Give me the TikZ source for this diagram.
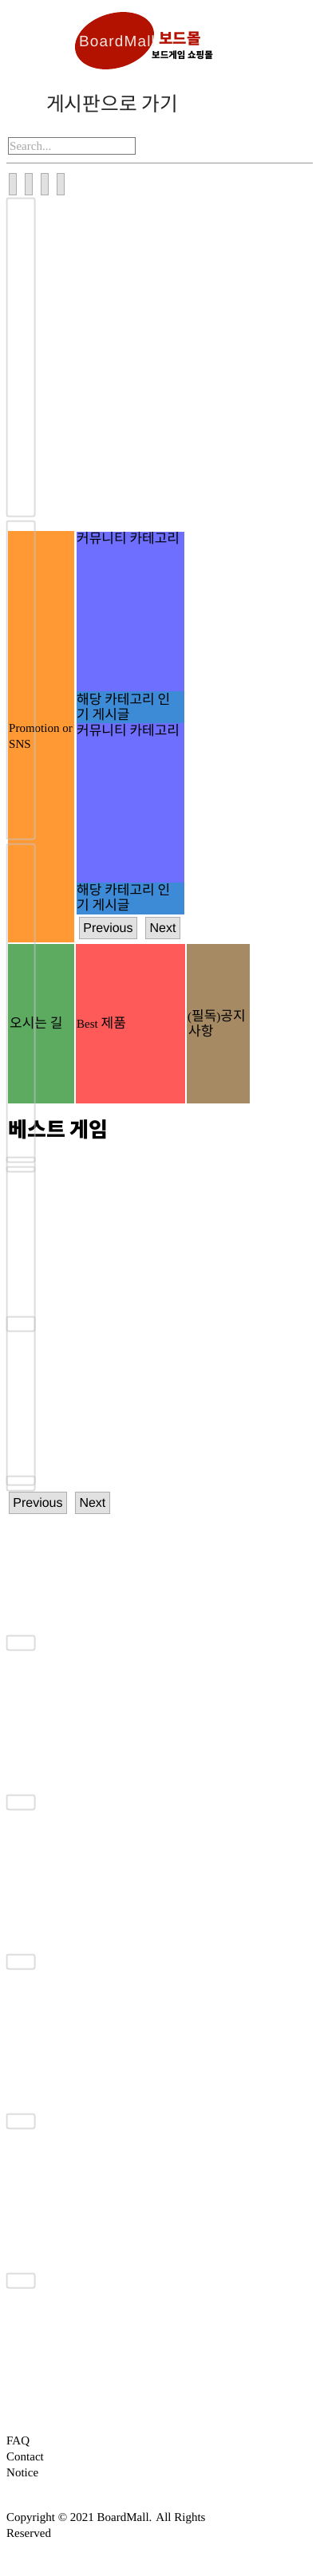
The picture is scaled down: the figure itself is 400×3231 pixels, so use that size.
\documentclass[tikz,border=0pt]{standalone}
\usepackage{fontspec}
\setmainfont{Liberation Serif}
\newfontfamily\korfont{Noto Sans CJK KR}
\newfontfamily\arialfont{Liberation Sans}
\definecolor{logored}{RGB}{179,18,0}
\definecolor{orangepanel}{RGB}{255,153,51}
\definecolor{purplepanel}{RGB}{110,110,255}
\definecolor{bluepanel}{RGB}{61,138,214}
\definecolor{greenpanel}{RGB}{92,171,96}
\definecolor{redpanel}{RGB}{255,90,90}
\definecolor{brownpanel}{RGB}{165,138,99}
\definecolor{btnfill}{RGB}{225,225,225}
\definecolor{btnline}{RGB}{173,173,173}
\definecolor{frameline}{RGB}{196,196,196}
\tikzset{
    framebox/.style={draw=frameline, line width=2pt, rounded corners=2pt, opacity=0.58},
    tabbtn/.style={draw=btnline, fill=btnfill, line width=1pt},
    pagebtn/.style={draw=btnline, fill=btnfill, line width=1pt, inner sep=0pt, minimum height=27pt,
        font=\arialfont\fontsize{16}{18}\selectfont},
    kortext/.style={anchor=base west, inner sep=0pt, font=\korfont\fontsize{17}{20}\selectfont},
    serifline/.style={anchor=base west, inner sep=0pt, font=\fontsize{15}{18}\selectfont}
}
\begin{document}
\begin{tikzpicture}[x=1pt, y=-1pt]
    \useasboundingbox (0, 0) rectangle (400, 3231);
    % logo
    \fill[logored, rotate around={17:(143.5, 51)}] (143.5, 51) ellipse (50.7 and 34.2);
    \node[anchor=base west, inner sep=0pt, text=white!90!logored, font=\fontsize{19}{20}\selectfont\arialfont] (logoname) at (99, 58) {\addfontfeature{LetterSpace=6}BoardMall};
    \node[anchor=base west, inner sep=0pt, text=logored, font=\korfont\bfseries\fontsize{19}{20}\selectfont] (logokor) at (199, 55) {보드몰};
    \node[anchor=base west, inner sep=0pt, font=\korfont\bfseries\fontsize{11.5}{14}\selectfont] (logosub) at (190, 73) {보드게임 쇼핑몰};
    \node[anchor=base west, inner sep=0pt, text=black!85, font=\korfont\fontsize{24.7}{28}\selectfont] (boardlink) at (58, 139) {게시판으로 가기};
    % search
    \draw[draw=black!54, line width=1pt] (10.5, 172.5) rectangle (169.5, 193);
    \node[serifline, text=black!35] (searchtext) at (12, 188) {Search...};
    \draw[draw=black!40, line width=1pt] (8, 204.5) -- (392, 204.5);
    % tab buttons
    \draw[tabbtn] (11.5, 217.5) rectangle (20.5, 244.5);
    \draw[tabbtn] (31.5, 217.5) rectangle (40.5, 244.5);
    \draw[tabbtn] (51.5, 217.5) rectangle (60.5, 244.5);
    \draw[tabbtn] (71.5, 217.5) rectangle (80.5, 244.5);
    % panels
    \fill[orangepanel] (10, 666) rectangle (93, 1182);
    \fill[purplepanel] (96, 667) rectangle (231, 867);
    \fill[bluepanel] (96, 867) rectangle (231, 907);
    \fill[purplepanel] (96, 907) rectangle (231, 1107);
    \fill[bluepanel] (96, 1107) rectangle (231, 1147);
    \fill[greenpanel] (10, 1184) rectangle (93, 1384);
    \fill[redpanel] (95, 1184) rectangle (232, 1384);
    \fill[brownpanel] (234, 1184) rectangle (313, 1384);
    \node[serifline] (promo1) at (11, 918.5) {Promotion or};
    \node[serifline] (promo2) at (11, 938) {SNS};
    \node[kortext] (cat1) at (96, 681) {커뮤니티 카테고리};
    \node[kortext] (hot1a) at (96, 883) {해당 카테고리 인};
    \node[kortext] (hot1b) at (96, 902) {기 게시글};
    \node[kortext] (cat2) at (96, 922) {커뮤니티 카테고리};
    \node[kortext] (hot2a) at (96, 1122) {해당 카테고리 인};
    \node[kortext] (hot2b) at (96, 1141) {기 게시글};
    \node[pagebtn, minimum width=72pt] (prev1) at (135.5, 1164) {Previous};
    \node[pagebtn, minimum width=43pt] (next1) at (204, 1164) {Next};
    \node[kortext] (road) at (12, 1289) {오시는 길};
    \node[serifline] (best) at (96, 1289) {Best {\korfont\fontsize{17}{20}\selectfont 제품}};
    \node[serifline] (notice1) at (235, 1280) {({\korfont\fontsize{17}{20}\selectfont 필독})\korfont\fontsize{17}{20}\selectfont 공지};
    \node[kortext] (notice2) at (236, 1299) {사항};
    \node[anchor=base west, inner sep=0pt, font=\korfont\bfseries\fontsize{26}{30}\selectfont] (bestgame) at (10, 1426) {베스트 게임};
    \node[pagebtn, minimum width=72pt] (prev2) at (47.5, 1885) {Previous};
    \node[pagebtn, minimum width=43pt] (next2) at (116, 1885) {Next};
    % outlined frames
    \draw[framebox] (8.5, 248.5) rectangle (43.5, 647.5);
    \draw[framebox] (8.5, 653.5) rectangle (43.5, 1052.5);
    \draw[framebox] (8.5, 1058.5) rectangle (43.5, 1457.5);
    \draw[framebox] (8.5, 1463.5) rectangle (43.5, 1862.5);
    \draw[framebox] (8.5, 1451.5) rectangle (43.5, 1469.5);
    \draw[framebox] (8.5, 1651.5) rectangle (43.5, 1669.5);
    \draw[framebox] (8.5, 1851.5) rectangle (43.5, 1869.5);
    \draw[framebox] (8.5, 2051.5) rectangle (43.5, 2069.5);
    \draw[framebox] (8.5, 2251.5) rectangle (43.5, 2269.5);
    \draw[framebox] (8.5, 2451.5) rectangle (43.5, 2469.5);
    \draw[framebox] (8.5, 2651.5) rectangle (43.5, 2669.5);
    \draw[framebox] (8.5, 2851.5) rectangle (43.5, 2869.5);
    % footer
    \node[serifline] (faq) at (8, 3066) {FAQ};
    \node[serifline] (contact) at (8, 3086) {Contact};
    \node[serifline] (noticelink) at (8, 3106) {Notice};
    \node[serifline] (copy1) at (8, 3162) {Copyright © 2021 BoardMall. All Rights};
    \node[serifline] (copy2) at (8, 3182) {Reserved};
\end{tikzpicture}
\end{document}
